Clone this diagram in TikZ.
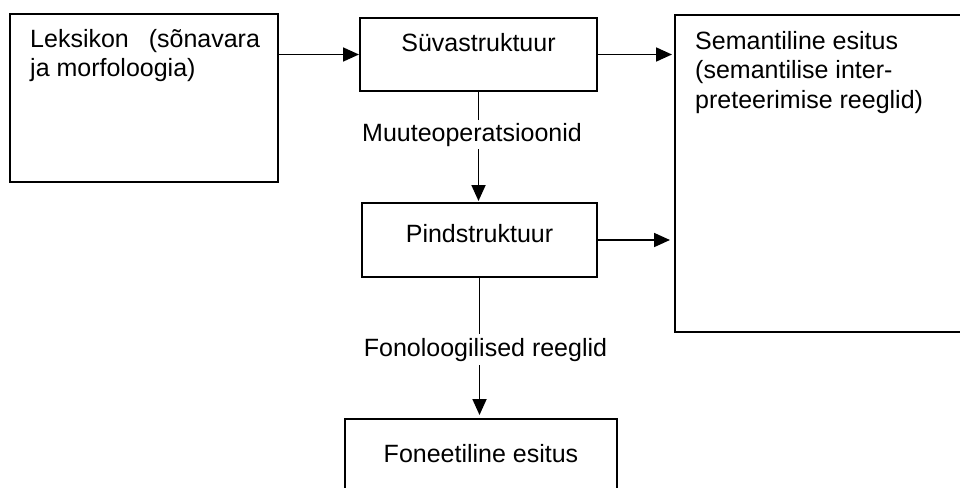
\documentclass[tikz,border=0pt]{standalone}
\usepackage{fontspec}
\setmainfont{Liberation Sans}
\usetikzlibrary{arrows.meta}
\tikzset{
  box/.style={draw, line width=1.8pt, rectangle, inner sep=0pt, outer sep=0pt, anchor=north west},
  txt/.style={inner sep=0pt, font=\fontsize{25}{29}\selectfont},
  lbl/.style={fill=white, inner xsep=1pt, inner ysep=3pt, font=\fontsize{25}{29}\selectfont},
  arr/.style={line width=1.8pt, -{Triangle[length=16pt,width=14pt]}}
}
\begin{document}
\begin{tikzpicture}[x=1pt,y=-1pt]
\clip (0,0) rectangle (960,487);
\fill[white] (0,0) rectangle (960,487);
% boxes
\node[box, minimum width=268pt, minimum height=168pt] (lek) at (10,14) {};
\node[box, minimum width=237pt, minimum height=73pt] (sv) at (360,18) {};
\node[box, minimum width=330pt, minimum height=317pt] (sem) at (675,15) {};
\node[box, minimum width=235pt, minimum height=74pt] (pind) at (362,203) {};
\node[box, minimum width=272pt, minimum height=110pt] (fon) at (345,419) {};
% texts
\node[txt, anchor=base west] (lek1) at (30,48) {Leksikon\hspace{13pt} (sõnavara};
\node[txt, anchor=base west] (lek2) at (30,76) {ja morfoloogia)};
\node[txt, anchor=base] (svt) at (478.5,52) {Süvastruktuur};
\node[txt, anchor=base west] (sem1) at (695,49) {Semantiline esitus};
\node[txt, anchor=base west] (sem2) at (695,78.5) {(semantilise inter-};
\node[txt, anchor=base west] (sem3) at (695,108) {preteerimise reeglid)};
\node[txt, anchor=base] (pindt) at (479.5,242) {Pindstruktuur};
\node[txt, anchor=base] (font) at (481,462) {Foneetiline esitus};
% connectors
\draw[arr, shorten >=1pt] (lek.east |- sv.west) -- (sv.west);
\draw[arr, shorten >=3pt] (sv.east) -- (sv.east -| sem.west);
\draw[arr, shorten >=5pt] (pind.east) -- (pind.east -| sem.west);
\draw[arr, shorten >=2pt] (sv.south) -- (sv.south |- pind.north);
\draw[arr, shorten >=4pt] (pind.south) -- (pind.south |- fon.north);
% edge labels
\node[lbl, anchor=base] (muute) at (472,141) {Muuteoperatsioonid};
\node[lbl, anchor=base, inner ysep=4pt] (fonol) at (485.5,356) {Fonoloogilised reeglid};
\end{tikzpicture}
\end{document}
